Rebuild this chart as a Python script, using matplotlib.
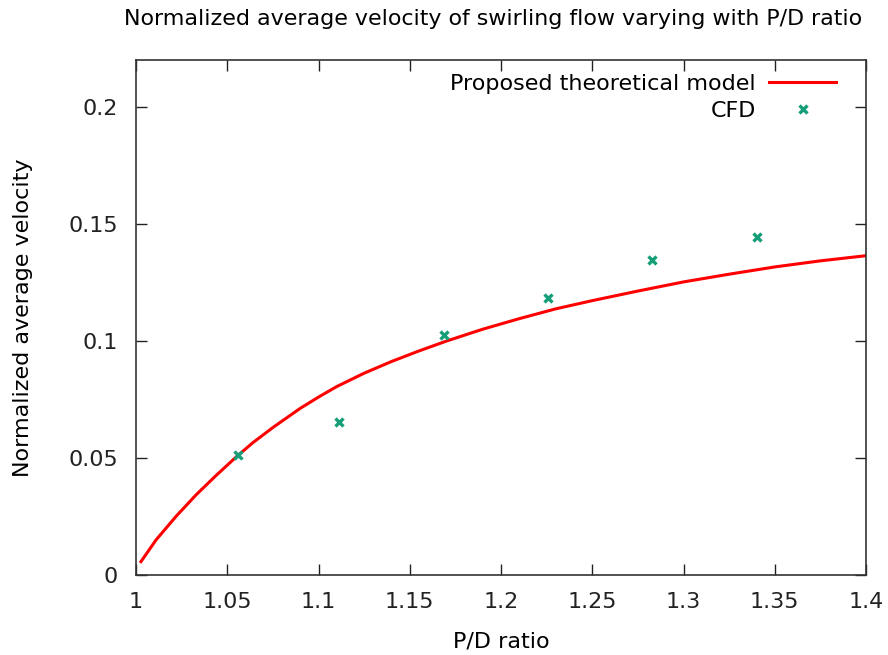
import matplotlib
matplotlib.use("Agg")
import matplotlib.pyplot as plt

# proposed theoretical model
model_pd = [1.0027, 1.011, 1.022, 1.033, 1.044, 1.055, 1.064, 1.075, 1.09, 1.1,
            1.11, 1.125, 1.14, 1.155, 1.17, 1.19, 1.21, 1.23, 1.25, 1.275,
            1.3, 1.325, 1.35, 1.375, 1.4]
model_v = [0.0057, 0.0150, 0.0251, 0.0343, 0.0426, 0.0505, 0.0565, 0.0630, 0.0712, 0.0760,
           0.0805, 0.0862, 0.0912, 0.0957, 0.0999, 0.1050, 0.1095, 0.1137, 0.1172, 0.1213,
           0.1252, 0.1285, 0.1316, 0.1342, 0.1364]

# CFD results
cfd_pd = [1.056, 1.111, 1.169, 1.226, 1.283, 1.340]
cfd_v = [0.0513, 0.0654, 0.1026, 0.1184, 0.1346, 0.1444]

xticks = [1, 1.05, 1.1, 1.15, 1.2, 1.25, 1.3, 1.35, 1.4]
xtick_labels = ["1", "1.05", "1.1", "1.15", "1.2", "1.25", "1.3", "1.35", "1.4"]
yticks = [0, 0.05, 0.1, 0.15, 0.2]
ytick_labels = ["0", "0.05", "0.1", "0.15", "0.2"]

plt.rcParams.update({'font.size': 16, 'font.family': 'DejaVu Sans'})

fig = plt.figure(figsize=(8.88, 6.55), dpi=100)
ax = fig.add_axes([136/888, 80/655, 730/888, 515/655])

ax.plot(model_pd, model_v, color='#ff0000', lw=2.2, label='Proposed theoretical model')
ax.plot(cfd_pd, cfd_v, ls='none', marker='x', ms=6, mew=2.4, color='#169e78', label='CFD')

ax.set_xlim(1, 1.4)
ax.set_ylim(0, 0.22)
ax.set_xticks(xticks)
ax.set_xticklabels(xtick_labels)
ax.set_yticks(yticks)
ax.set_yticklabels(ytick_labels)
ax.tick_params(direction='in', length=8, width=1, top=True, right=True, colors='#222222')
ax.tick_params(axis='x', pad=12)
ax.tick_params(axis='y', pad=13)
for s in ax.spines.values():
    s.set_color('#333333')
    s.set_linewidth(1.2)

ax.set_xlabel('P/D ratio', labelpad=14)
ax.set_ylabel('Normalized average velocity', labelpad=25)
ax.set_title('Normalized average velocity of swirling flow varying with P/D ratio',
             fontsize=15.9, pad=25, x=0.5 - 8/730)

ax.legend(loc='upper right', bbox_to_anchor=(1 - 19/730, 1 - 3/515), frameon=False,
          markerfirst=False, fontsize=16, handlelength=3.0, borderaxespad=0.1,
          labelspacing=0.3, handletextpad=0.6)

fig.savefig('out.png', dpi=100)
